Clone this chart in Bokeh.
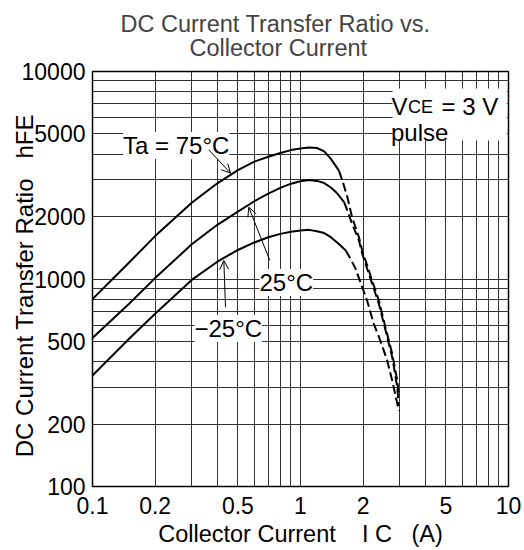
import math
from bokeh.plotting import figure
from bokeh.models import (Range1d, FixedTicker, CustomJSTickFormatter, Label,
                          Arrow, OpenHead, BoxAnnotation, Title)
from bokeh.embed import file_html
from bokeh.resources import INLINE

# ---------------- data ----------------
ic_75_solid = [0.1, 0.15, 0.2, 0.3, 0.4, 0.5, 0.6, 0.7, 0.8, 0.9, 1.0, 1.1, 1.2, 1.3, 1.4, 1.53]
hfe_75_solid = [800, 1200, 1610, 2330, 2900, 3350, 3680, 3880, 4050, 4180, 4260, 4300, 4280, 4120, 3790, 3330]
ic_75_dash = [1.53, 1.59, 1.68, 1.77, 1.91, 1.98, 2.21, 2.38, 2.56, 2.76, 2.92, 2.97]
hfe_75_dash = [3330, 2980, 2480, 1985, 1590, 1372, 983, 788, 586, 436, 324, 270]

ic_25_solid = [0.1, 0.15, 0.2, 0.3, 0.4, 0.5, 0.6, 0.7, 0.8, 0.9, 1.0, 1.1, 1.2, 1.3, 1.4, 1.5, 1.62]
hfe_25_solid = [520, 760, 1010, 1470, 1830, 2110, 2370, 2580, 2750, 2880, 2960, 3000, 2970, 2900, 2760, 2590, 2345]
ic_25_dash = [1.62, 1.68, 1.77, 1.91, 1.98, 2.21, 2.38, 2.56, 2.76, 2.92, 2.97]
hfe_25_dash = [2345, 2140, 1845, 1533, 1323, 950, 760, 570, 420, 300, 245]

ic_m25_solid = [0.1, 0.15, 0.2, 0.3, 0.4, 0.5, 0.6, 0.7, 0.8, 0.9, 1.0, 1.1, 1.2, 1.3, 1.4, 1.52, 1.65]
hfe_m25_solid = [343, 515, 680, 990, 1215, 1380, 1500, 1590, 1650, 1690, 1715, 1725, 1700, 1665, 1590, 1483, 1372]
ic_m25_dash = [1.65, 1.74, 1.84, 1.94, 2.09, 2.25, 2.42, 2.61, 2.76, 2.97]
hfe_m25_dash = [1372, 1252, 1120, 965, 788, 608, 505, 405, 324, 232]

x_tick_vals = [0.1, 0.2, 0.5, 1, 2, 5, 10]
y_tick_vals = [100, 200, 500, 1000, 2000, 5000, 10000]
x_grid_vals = [0.1, 0.2, 0.3, 0.4, 0.5, 0.6, 0.7, 0.8, 0.9, 1, 2, 3, 4, 5, 6, 7, 8, 9, 10]
y_grid_vals = [100, 200, 300, 400, 500, 600, 700, 800, 900, 1000,
               2000, 3000, 4000, 5000, 6000, 7000, 8000, 9000, 10000]

FONT = "Liberation Sans"
NB = "\u00a0"

p = figure(width=524, height=550, x_axis_type="log", y_axis_type="log",
           x_range=Range1d(0.1, 10), y_range=Range1d(100, 10000),
           output_backend="svg", toolbar_location=None,
           min_border_left=92, min_border_right=16, min_border_top=71, min_border_bottom=64)
p.outline_line_color = "black"
p.outline_line_width = 1.5
p.background_fill_color = "white"
p.border_fill_color = "white"

# titles (two lines)
p.title.text = "DC Current Transfer Ratio vs."
p.title.align = "left"
p.title.offset = 28
p.title.standoff = -30
p.title.text_font = FONT
p.title.text_font_size = "23.5px"
p.title.text_font_style = "normal"
p.add_layout(Title(text="Collector Current", align="left", offset=97, standoff=22,
                   text_font=FONT, text_font_size="23.5px", text_font_style="normal"), "above")

for ax, ticks, so in ((p.xaxis, x_tick_vals, 10), (p.yaxis, y_tick_vals, 7)):
    ax.ticker = FixedTicker(ticks=ticks, minor_ticks=[])
    ax.formatter = CustomJSTickFormatter(code="return tick.toString();")
    ax.axis_line_color = None
    ax.major_tick_line_color = None
    ax.minor_tick_line_color = None
    ax.major_tick_in = 0
    ax.major_tick_out = 0
    ax.major_label_standoff = so
    ax.major_label_text_font = FONT
    ax.major_label_text_font_size = "23px"
    ax.major_label_text_color = "black"
    ax.axis_label_text_font = FONT
    ax.axis_label_text_font_style = "normal"
    ax.axis_label_text_color = "black"

p.xaxis.axis_label = "Collector Current" + NB * 4 + "I" + NB + "C" + NB * 3 + "(A)"
p.xaxis.axis_label_text_font_size = "23.5px"
p.xaxis.axis_label_standoff = 4
p.yaxis.axis_label = "DC Current Transfer Ratio" + NB * 3 + "hFE" + NB * 2
p.yaxis.axis_label_text_font_size = "24px"
p.yaxis.axis_label_standoff = -19

p.xgrid.ticker = FixedTicker(ticks=x_grid_vals)
p.ygrid.ticker = FixedTicker(ticks=y_grid_vals)
for g in (p.xgrid, p.ygrid):
    g.grid_line_color = "#333333"
    g.grid_line_width = 1

# curves
for xs, ys in ((ic_75_solid, hfe_75_solid), (ic_25_solid, hfe_25_solid), (ic_m25_solid, hfe_m25_solid)):
    p.line(xs, ys, line_color="black", line_width=2, line_join="round")
for xs, ys in ((ic_75_dash, hfe_75_dash), (ic_25_dash, hfe_25_dash), (ic_m25_dash, hfe_m25_dash)):
    p.line(xs, ys, line_color="black", line_width=2, line_dash="9 4")

# condition box
p.add_layout(BoxAnnotation(left=2.77, right=9.82, top=8280, bottom=4650,
                           fill_color="white", fill_alpha=1.0, line_color=None))

def lab(text, x, y, size="24px", bg=None):
    kw = dict(x=x, y=y, x_units="screen", y_units="screen", text=text,
              text_font=FONT, text_font_size=size, text_color="black",
              text_align="left", text_baseline="alphabetic")
    if bg:
        kw.update(background_fill_color=bg, background_fill_alpha=1.0)
    p.add_layout(Label(**kw))

# in-plot annotations (frame-relative screen units)
lab("Ta = 75°C", 30.5, 341, bg="white")
lab("25°C", 167, 204, bg="white")
lab("\u221225°C", 102, 158, bg="white")
lab("V", 299, 380)
lab("CE", 315.5, 380, size="18px")
lab("= 3 V", 349, 380)
lab("pulse", 298.5, 354)

# arrows
for xs, ys, xe, ye in ((0.362, 4195, 0.461, 3236),
                       (0.712, 1228, 0.564, 2218),
                       (0.436, 731, 0.428, 1228)):
    p.add_layout(Arrow(x_start=xs, y_start=ys, x_end=xe, y_end=ye,
                       line_color="black", line_width=1,
                       end=OpenHead(size=9, line_width=1, line_color="black")))

open("out.html", "w").write(file_html(p, INLINE))
